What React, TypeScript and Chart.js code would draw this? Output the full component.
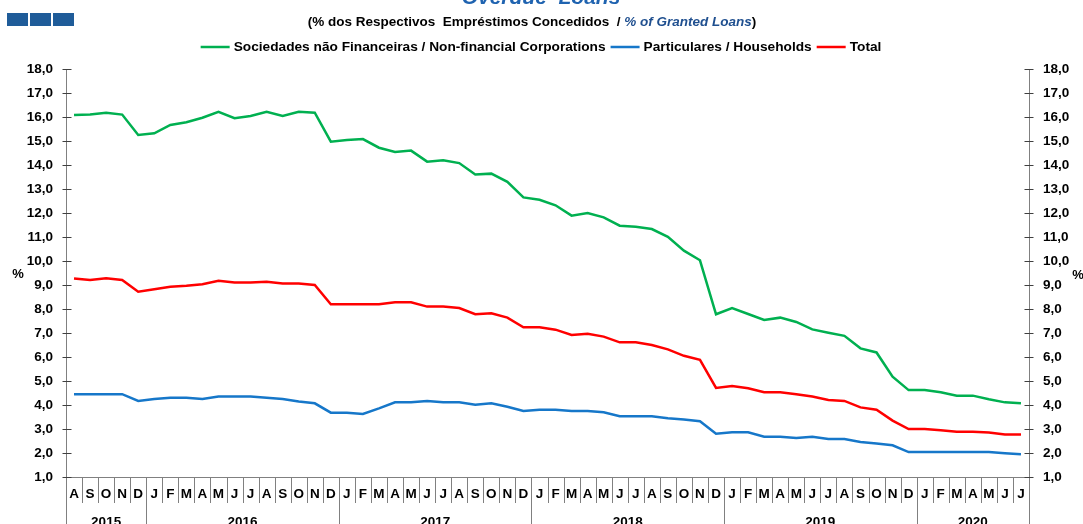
import React, { useEffect, useRef } from 'react';
import { Chart, registerables } from 'chart.js';

Chart.register(...registerables);

const monthLabels = [
  'A', 'S', 'O', 'N', 'D',
  'J', 'F', 'M', 'A', 'M', 'J', 'J', 'A', 'S', 'O', 'N', 'D',
  'J', 'F', 'M', 'A', 'M', 'J', 'J', 'A', 'S', 'O', 'N', 'D',
  'J', 'F', 'M', 'A', 'M', 'J', 'J', 'A', 'S', 'O', 'N', 'D',
  'J', 'F', 'M', 'A', 'M', 'J', 'J', 'A', 'S', 'O', 'N', 'D',
  'J', 'F', 'M', 'A', 'M', 'J', 'J',
];
const yearLabels = ['2015', '2016', '2017', '2018', '2019', '2020'];
const yearSpans = [5, 12, 12, 12, 12, 7];

const corporations = [
  16.08, 16.1, 16.18, 16.1, 15.25,
  15.32, 15.67, 15.78, 15.97, 16.22, 15.95, 16.04, 16.22, 16.04, 16.22, 16.18, 14.97,
  15.04, 15.08, 14.72, 14.54, 14.6, 14.14, 14.2, 14.08, 13.6, 13.64, 13.3, 12.65,
  12.55, 12.32, 11.89, 12.0, 11.82, 11.47, 11.43, 11.33, 11.01, 10.43, 10.03, 7.78,
  8.04, 7.79, 7.54, 7.64, 7.46, 7.15, 7.01, 6.88, 6.36, 6.19, 5.18, 4.62,
  4.62, 4.53, 4.39, 4.39, 4.24, 4.11, 4.07,
];
const households = [
  4.45, 4.45, 4.45, 4.45, 4.17,
  4.25, 4.3, 4.3, 4.25, 4.35, 4.35, 4.35, 4.3, 4.25, 4.15, 4.07, 3.68,
  3.68, 3.63, 3.86, 4.11, 4.11, 4.17, 4.11, 4.11, 4.01, 4.07, 3.93, 3.75,
  3.8, 3.8, 3.75, 3.75, 3.7, 3.53, 3.53, 3.53, 3.45, 3.4, 3.32, 2.8,
  2.86, 2.86, 2.68, 2.68, 2.63, 2.68, 2.58, 2.58, 2.46, 2.4, 2.32, 2.04,
  2.04, 2.04, 2.04, 2.04, 2.04, 1.99, 1.95,
];
const total = [
  9.27, 9.21, 9.28, 9.21, 8.72,
  8.82, 8.93, 8.97, 9.03, 9.18, 9.1, 9.1, 9.14, 9.06, 9.06, 9.0, 8.2,
  8.2, 8.2, 8.2, 8.28, 8.28, 8.1, 8.1, 8.04, 7.78, 7.82, 7.64, 7.24,
  7.24, 7.14, 6.92, 6.97, 6.85, 6.61, 6.61, 6.5, 6.32, 6.05, 5.88, 4.71,
  4.79, 4.7, 4.53, 4.53, 4.45, 4.35, 4.21, 4.17, 3.9, 3.8, 3.35, 3.0,
  3.0, 2.95, 2.89, 2.89, 2.85, 2.77, 2.77,
];
const yTicks = [1, 2, 3, 4, 5, 6, 7, 8, 9, 10, 11, 12, 13, 14, 15, 16, 17, 18];

const seriesLabels = [
  'Sociedades não Financeiras / Non-financial Corporations',
  'Particulares / Households',
  'Total',
];
const seriesColors = ['#00b050', '#1677c9', '#ff0000'];

const titleText = 'Overdue  Loans';
const subtitlePt = '(% dos Respectivos  Empréstimos Concedidos  / ';
const subtitleEn = '% of Granted Loans';
const subtitleEnd = ')';

const FONT = '"Liberation Sans", Arial, sans-serif';
const W = 1083;
const H = 524;

const decorPlugin = {
  id: 'decor',
  afterDraw(chart: any) {
    const ctx: CanvasRenderingContext2D = chart.ctx;
    const ca = chart.chartArea;
    const xs = chart.scales.x;
    const ys = chart.scales.y;
    ctx.save();

    // logo squares
    ctx.fillStyle = '#1f5c99';
    for (let i = 0; i < 3; i++) ctx.fillRect(7 + i * 23, 13, 21, 13);

    // title (partly cut off at the top)
    ctx.fillStyle = '#1f63b0';
    ctx.font = `italic bold 21px ${FONT}`;
    ctx.textAlign = 'center';
    ctx.textBaseline = 'alphabetic';
    ctx.fillText(titleText, 541, 4);

    // subtitle
    const subSize = 13.5;
    ctx.font = `bold ${subSize}px ${FONT}`;
    const w1 = ctx.measureText(subtitlePt).width;
    ctx.font = `italic bold ${subSize}px ${FONT}`;
    const w2 = ctx.measureText(subtitleEn).width;
    ctx.font = `bold ${subSize}px ${FONT}`;
    const w3 = ctx.measureText(subtitleEnd).width;
    let sx = 532 - (w1 + w2 + w3) / 2;
    ctx.textAlign = 'left';
    ctx.textBaseline = 'middle';
    ctx.fillStyle = '#000';
    ctx.fillText(subtitlePt, sx, 22);
    sx += w1;
    ctx.font = `italic bold ${subSize}px ${FONT}`;
    ctx.fillStyle = '#1f4f8f';
    ctx.fillText(subtitleEn, sx, 22);
    sx += w2;
    ctx.font = `bold ${subSize}px ${FONT}`;
    ctx.fillStyle = '#000';
    ctx.fillText(subtitleEnd, sx, 22);

    // legend
    const ds = chart.data.datasets;
    ctx.font = `bold 13.7px ${FONT}`;
    const lineLen = 29;
    const gapAfterLine = 4;
    const gapBetween = 5;
    let totalW = 0;
    ds.forEach((d: any, i: number) => {
      totalW += lineLen + gapAfterLine + ctx.measureText(d.label).width;
      if (i < ds.length - 1) totalW += gapBetween;
    });
    let lx = 541 - totalW / 2;
    ds.forEach((d: any) => {
      ctx.strokeStyle = d.borderColor;
      ctx.lineWidth = 2.5;
      ctx.beginPath();
      ctx.moveTo(lx, 47);
      ctx.lineTo(lx + lineLen, 47);
      ctx.stroke();
      lx += lineLen + gapAfterLine;
      ctx.fillStyle = '#000';
      ctx.fillText(d.label, lx, 47);
      lx += ctx.measureText(d.label).width + gapBetween;
    });

    // axes
    ctx.strokeStyle = '#808080';
    ctx.lineWidth = 1;
    const L = Math.round(ca.left) + 0.5;
    const R = Math.round(ca.right) + 0.5;
    const B = Math.round(ca.bottom) + 0.5;
    ctx.beginPath();
    ctx.moveTo(L, ca.top);
    ctx.lineTo(L, H);
    ctx.moveTo(R, ca.top);
    ctx.lineTo(R, H);
    ctx.moveTo(L, B);
    ctx.lineTo(R, B);
    ctx.stroke();

    // y ticks and labels (both sides)
    ctx.font = `bold 13.5px ${FONT}`;
    ctx.fillStyle = '#000';
    ctx.textBaseline = 'middle';
    yTicks.forEach((v) => {
      const py = Math.round(ys.getPixelForValue(v)) + 0.5;
      ctx.strokeStyle = '#404040';
      ctx.beginPath();
      ctx.moveTo(L - 4, py);
      ctx.lineTo(L + 5, py);
      ctx.moveTo(R - 5, py);
      ctx.lineTo(R + 4, py);
      ctx.stroke();
      const txt = v.toFixed(1).replace('.', ',');
      ctx.textAlign = 'right';
      ctx.fillText(txt, ca.left - 13, py);
      ctx.textAlign = 'left';
      ctx.fillText(txt, ca.right + 14, py);
    });

    // % labels
    ctx.font = `bold 13px ${FONT}`;
    ctx.textAlign = 'center';
    ctx.fillText('%', 18, 274);
    ctx.fillText('%', 1078, 275);

    // month separators and labels
    ctx.strokeStyle = '#808080';
    const yearStarts: number[] = [];
    let acc = 0;
    yearSpans.forEach((s) => {
      yearStarts.push(acc);
      acc += s;
    });
    for (let i = 1; i < monthLabels.length; i++) {
      const px = Math.round(xs.getPixelForValue(i - 0.5)) + 0.5;
      const isYear = yearStarts.includes(i);
      ctx.beginPath();
      ctx.moveTo(px, B);
      ctx.lineTo(px, isYear ? H : ca.bottom + 26);
      ctx.stroke();
    }
    ctx.font = `bold 13.5px ${FONT}`;
    ctx.textAlign = 'center';
    ctx.fillStyle = '#000';
    monthLabels.forEach((m, i) => {
      ctx.fillText(m, xs.getPixelForValue(i), ca.bottom + 17);
    });
    ctx.textBaseline = 'alphabetic';
    yearLabels.forEach((yl, k) => {
      const a = xs.getPixelForValue(yearStarts[k] - 0.5);
      const b = xs.getPixelForValue(yearStarts[k] + yearSpans[k] - 0.5);
      ctx.fillText(yl, (a + b) / 2, H + 2);
    });

    ctx.restore();
  },
};

export default function App() {
  const ref = useRef<HTMLCanvasElement | null>(null);
  useEffect(() => {
    const canvas = ref.current;
    if (!canvas) return;
    const chart = new Chart(canvas, {
      type: 'line',
      data: {
        labels: monthLabels,
        datasets: [
          { label: seriesLabels[0], data: corporations, borderColor: seriesColors[0], backgroundColor: seriesColors[0] },
          { label: seriesLabels[1], data: households, borderColor: seriesColors[1], backgroundColor: seriesColors[1] },
          { label: seriesLabels[2], data: total, borderColor: seriesColors[2], backgroundColor: seriesColors[2] },
        ],
      },
      options: {
        responsive: false,
        animation: false,
        devicePixelRatio: 1,
        layout: { padding: { left: 66, right: W - 1029, top: 69, bottom: H - 477 } },
        elements: {
          line: { borderWidth: 2.5, tension: 0 },
          point: { radius: 0, hoverRadius: 0 },
        },
        plugins: {
          legend: { display: false },
          title: { display: false },
          tooltip: { enabled: false },
        },
        scales: {
          x: { type: 'category', offset: true, display: false },
          y: { type: 'linear', min: 1, max: 18, display: false },
        },
      },
      plugins: [decorPlugin],
    });
    return () => chart.destroy();
  }, []);

  return (
    <div style={{ position: 'absolute', left: 0, top: 0, width: W, height: H, background: '#fff' }}>
      <canvas ref={ref} width={W} height={H} style={{ display: 'block', width: W, height: H }} />
    </div>
  );
}
